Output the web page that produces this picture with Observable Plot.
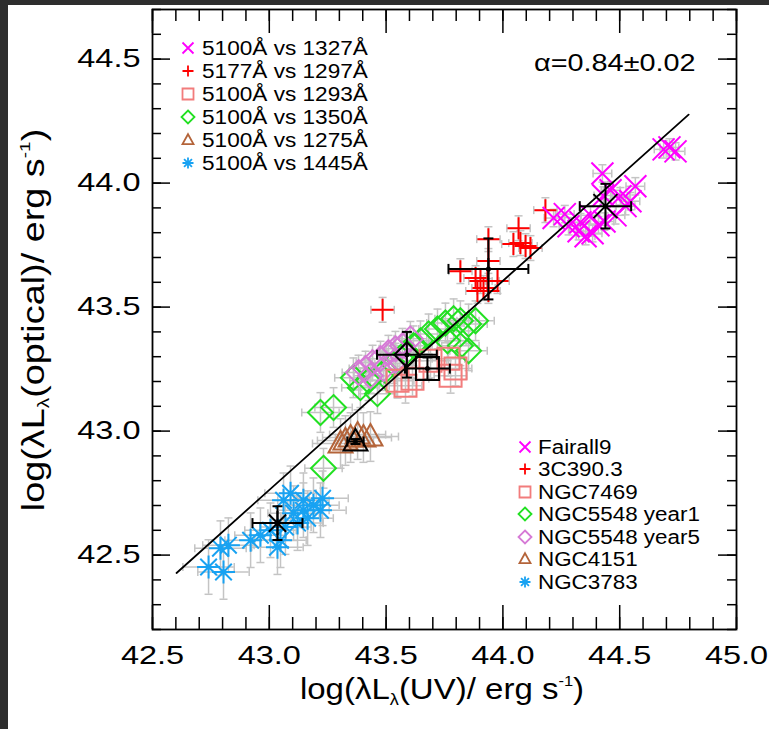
<!DOCTYPE html>
<html><head><meta charset="utf-8">
<script src="https://cdn.jsdelivr.net/npm/d3@7"></script>
<script src="https://cdn.jsdelivr.net/npm/@observablehq/plot@0.6"></script>
<style>
html,body{margin:0;padding:0;background:#2e2e2e;}
#wrap{position:relative;width:769px;height:729px;overflow:hidden;background:#2e2e2e;}
#panel{position:absolute;left:8px;top:5px;right:0;bottom:0;background:#fff;}
#chart{position:absolute;left:0;top:0;}
.t{position:absolute;font-family:"Liberation Sans",Arial,Helvetica,sans-serif;color:#000;white-space:nowrap;line-height:1;}
.t sub{font-size:0.55em;vertical-align:-0.35em;line-height:0;}
.t sup{font-size:0.5em;vertical-align:0.9em;line-height:0;}
</style></head><body>
<div id="wrap"><div id="panel"></div><div id="chart"></div><div id="overlay"></div></div>
<script>
// ---------------- data ----------------
const seriesNames = ["Fairall9","3C390.3","NGC7469","NGC5548 year1","NGC5548 year5","NGC4151","NGC3783"];
const pairLabels  = ["5100Å vs 1327Å","5177Å vs 1297Å","5100Å vs 1293Å","5100Å vs 1350Å","5100Å vs 1275Å","5100Å vs 1445Å"];
const fitLabel = "α=0.84±0.02";

const fairall9 = [[44.217,43.859],[44.265,43.875],[44.281,43.826],[44.324,43.806],[44.354,43.786],[44.384,43.798],
  [44.332,43.842],[44.409,43.830],[44.435,43.845],[44.426,44.039],[44.461,43.971],[44.503,43.947],[44.525,43.907],
  [44.546,43.927],[44.482,43.870],[44.375,43.870],[44.567,43.987],[44.430,43.950],[44.688,44.136],[44.739,44.128],[44.713,44.144]];
const c3c390 = [[44.182,43.891],[44.067,43.818],[44.075,43.758],[44.097,43.746],[44.045,43.754],[44.118,43.738],
  [43.938,43.774],[43.938,43.686],[43.818,43.645],[43.883,43.617],[43.904,43.605],[43.934,43.605],[43.917,43.577],
  [43.891,43.565],[43.938,43.565],[43.977,43.605],[43.485,43.489]];
const ngc7469 = [[43.549,43.203],[43.583,43.183],[43.613,43.211],[43.690,43.284],[43.767,43.292],[43.797,43.252],[43.776,43.223]];
const ngc5548y1 = [[43.232,42.850],[43.219,43.075],[43.275,43.095],[43.360,43.215],[43.390,43.175],[43.425,43.203],
  [43.463,43.151],[43.497,43.244],[43.532,43.272],[43.583,43.316],[43.617,43.344],[43.647,43.364],[43.682,43.392],
  [43.720,43.412],[43.754,43.436],[43.789,43.453],[43.818,43.445],[43.853,43.432],[43.883,43.445],[43.763,43.364],
  [43.818,43.344],[43.853,43.324]];
const ngc5548y5 = [[43.382,43.236],[43.412,43.252],[43.442,43.276],[43.476,43.292],[43.510,43.316],[43.540,43.332],
  [43.570,43.344],[43.604,43.372],[43.433,43.223],[43.489,43.252],[43.540,43.284]];
const ngc4151 = [[43.305,42.950],[43.326,42.962],[43.348,42.974],[43.378,42.986],[43.403,42.974],[43.433,42.978]];
const ngc3783 = [[42.740,42.452],[42.804,42.432],[42.791,42.528],[42.825,42.540],[42.920,42.560],[42.962,42.580],
  [43.005,42.600],[43.048,42.560],[43.035,42.532],[43.069,42.613],[43.104,42.669],[43.146,42.681],[43.189,42.701],
  [43.228,42.729],[43.164,42.649],[43.121,42.629],[43.061,42.721],[43.091,42.749],[43.146,42.721],[43.219,42.681]];
const seriesPoints = [fairall9, c3c390, ngc7469, ngc5548y1, ngc5548y5, ngc4151, ngc3783];
const seriesErrX = [0.04,0.05,0.07,0.08,0.07,0.12,0.11];
const seriesErrY = [0.035,0.05,0.07,0.08,0.07,0.10,0.11];

// black mean points
const meanX    = [44.439, 43.938, 43.677, 43.589, 43.369, 43.035];
const meanY    = [43.907, 43.654, 43.252, 43.308, 42.958, 42.629];
const meanErrX = [0.110, 0.171, 0.096, 0.128, 0.035, 0.107];
const meanErrY = [0.090, 0.123, 0.045, 0.092, 0.010, 0.068];

// fit line
const fitX = [42.603, 44.795];
const fitY = [42.428, 44.276];

// ticks
const xMajor = [42.5, 43.0, 43.5, 44.0, 44.5, 45.0];
const yMajor = [42.5, 43.0, 43.5, 44.0, 44.5];
const xMinor = d3.range(0, 26).map(i => +(42.5 + i * 0.1).toFixed(1));
const yMinor = d3.range(0, 26).map(i => +(42.2 + i * 0.1).toFixed(1));

// ---------------- styles ----------------
const colors = ["#ff00ff","#ff0000","#f27c7c","#22e022","#d67ad6","#b4643a","#18a2f2"];
const R = s => Math.sqrt(s / Math.PI);
const sym = {
  times:{draw(c,s){const r=R(s);c.moveTo(-r,-r);c.lineTo(r,r);c.moveTo(-r,r);c.lineTo(r,-r);}},
  plus:{draw(c,s){const r=R(s);c.moveTo(-r,0);c.lineTo(r,0);c.moveTo(0,-r);c.lineTo(0,r);}},
  square:{draw(c,s){const r=R(s);c.moveTo(-r,-r);c.lineTo(r,-r);c.lineTo(r,r);c.lineTo(-r,r);c.closePath();}},
  diamond:{draw(c,s){const r=R(s);c.moveTo(0,-r);c.lineTo(r,0);c.lineTo(0,r);c.lineTo(-r,0);c.closePath();}},
  triangle:{draw(c,s){const r=R(s);c.moveTo(0,-1.05*r);c.lineTo(r,0.75*r);c.lineTo(-r,0.75*r);c.closePath();}},
  asterisk:{draw(c,s){const r=R(s),d=r*0.72;c.moveTo(-r,0);c.lineTo(r,0);c.moveTo(0,-r);c.lineTo(0,r);
    c.moveTo(-d,-d);c.lineTo(d,d);c.moveTo(-d,d);c.lineTo(d,-d);}},
  vcap:{draw(c,s){const r=R(s);c.moveTo(0,-r);c.lineTo(0,r);}},
  hcap:{draw(c,s){const r=R(s);c.moveTo(-r,0);c.lineTo(r,0);}}
};
const shapes = ["times","plus","square","diamond","diamond","triangle","asterisk"];
const sizes  = [11, 11, 11, 12.5, 12.5, 12, 11.5];
const meanShapes = ["times","plus","square","diamond","triangle","asterisk"];
const meanSizes  = [12, 11, 11.5, 12.5, 12, 12];
const drawOrder = [3,4,2,5,6,1,0];

// ---------------- marks ----------------
const grey = "#c4c4c4";
const marks = [];
for (const i of drawOrder) {
  const pts = seriesPoints[i], ex = seriesErrX[i], ey = seriesErrY[i];
  marks.push(Plot.ruleY(pts, {y: d => d[1], x1: d => d[0] - ex, x2: d => d[0] + ex, stroke: grey, strokeWidth: 1.5}));
  marks.push(Plot.ruleX(pts, {x: d => d[0], y1: d => d[1] - ey, y2: d => d[1] + ey, stroke: grey, strokeWidth: 1.5}));
  marks.push(Plot.dot(pts, {x: d => d[0] - ex, y: d => d[1], symbol: sym.vcap, r: 4, stroke: grey, strokeWidth: 1.5, fill: "none"}));
  marks.push(Plot.dot(pts, {x: d => d[0] + ex, y: d => d[1], symbol: sym.vcap, r: 4, stroke: grey, strokeWidth: 1.5, fill: "none"}));
  marks.push(Plot.dot(pts, {x: d => d[0], y: d => d[1] - ey, symbol: sym.hcap, r: 4, stroke: grey, strokeWidth: 1.5, fill: "none"}));
  marks.push(Plot.dot(pts, {x: d => d[0], y: d => d[1] + ey, symbol: sym.hcap, r: 4, stroke: grey, strokeWidth: 1.5, fill: "none"}));
}
for (const i of drawOrder) {
  marks.push(Plot.dot(seriesPoints[i], {x: d => d[0], y: d => d[1], symbol: sym[shapes[i]], r: sizes[i],
    stroke: colors[i], strokeWidth: 2, fill: "none"}));
}
// fit line
marks.push(Plot.line(fitX.map((x, k) => [x, fitY[k]]), {x: d => d[0], y: d => d[1], stroke: "black", strokeWidth: 1.8}));
// means
const means = meanX.map((x, k) => ({x, y: meanY[k], ex: meanErrX[k], ey: meanErrY[k], k}));
marks.push(Plot.ruleY(means, {y: "y", x1: d => d.x - d.ex, x2: d => d.x + d.ex, stroke: "black", strokeWidth: 2}));
marks.push(Plot.ruleX(means, {x: "x", y1: d => d.y - d.ey, y2: d => d.y + d.ey, stroke: "black", strokeWidth: 2}));
marks.push(Plot.dot(means, {x: d => d.x - d.ex, y: "y", symbol: sym.vcap, r: 5, stroke: "black", strokeWidth: 2, fill: "none"}));
marks.push(Plot.dot(means, {x: d => d.x + d.ex, y: "y", symbol: sym.vcap, r: 5, stroke: "black", strokeWidth: 2, fill: "none"}));
marks.push(Plot.dot(means, {x: "x", y: d => d.y - d.ey, symbol: sym.hcap, r: 5, stroke: "black", strokeWidth: 2, fill: "none"}));
marks.push(Plot.dot(means, {x: "x", y: d => d.y + d.ey, symbol: sym.hcap, r: 5, stroke: "black", strokeWidth: 2, fill: "none"}));
means.forEach(m => {
  marks.push(Plot.dot([m], {x: "x", y: "y", symbol: sym[meanShapes[m.k]], r: meanSizes[m.k], stroke: "black", strokeWidth: 2, fill: "none"}));
});
marks.push(Plot.dot(means, {x: "x", y: "y", r: 2.5, fill: "black"}));

// frame + ticks (inward, all four sides)
const FW = 584, FH = 620;
marks.push(Plot.tickX(xMinor, {x: d => d, insetTop: FH - 12, stroke: "black", strokeWidth: 1.5}));
marks.push(Plot.tickX(xMinor, {x: d => d, insetBottom: FH - 12, stroke: "black", strokeWidth: 1.5}));
marks.push(Plot.tickX(xMajor, {x: d => d, insetTop: FH - 24, stroke: "black", strokeWidth: 1.5}));
marks.push(Plot.tickX(xMajor, {x: d => d, insetBottom: FH - 24, stroke: "black", strokeWidth: 1.5}));
marks.push(Plot.tickY(yMinor, {y: d => d, insetRight: FW - 9, stroke: "black", strokeWidth: 1.5}));
marks.push(Plot.tickY(yMinor, {y: d => d, insetLeft: FW - 9, stroke: "black", strokeWidth: 1.5}));
marks.push(Plot.tickY(yMajor, {y: d => d, insetRight: FW - 18, stroke: "black", strokeWidth: 1.5}));
marks.push(Plot.tickY(yMajor, {y: d => d, insetLeft: FW - 18, stroke: "black", strokeWidth: 1.5}));
marks.push(Plot.frame({stroke: "black", strokeWidth: 1.8}));
marks.push(Plot.axisX({ticks: xMajor, tickSize: 0, tickPadding: 16, tickFormat: d3.format(".1f"), fontSize: 26, label: null}));
marks.push(Plot.axisY({ticks: yMajor, tickSize: 0, tickPadding: 12, tickFormat: d3.format(".1f"), fontSize: 26, label: null}));

const chart = Plot.plot({
  width: 769, height: 729,
  marginLeft: 152, marginRight: 33, marginTop: 9, marginBottom: 100,
  style: {background: "transparent", fontFamily: "Liberation Sans, Arial, Helvetica, sans-serif", color: "black", overflow: "visible"},
  x: {domain: [42.5, 45.0]},
  y: {domain: [42.2, 44.7]},
  marks
});
document.getElementById("chart").appendChild(chart);
chart.querySelectorAll('g[aria-label="x-axis tick label"] text, g[aria-label="y-axis tick label"] text').forEach(el => {
  el.setAttribute("transform", (el.getAttribute("transform") || "") + " scale(1.25,1)");
  el.setAttribute("fill", "black");
});

// ---------------- overlay texts / legends ----------------
const ov = document.getElementById("overlay");
function addText(html, css) {
  const d = document.createElement("div");
  d.className = "t";
  d.innerHTML = html;
  Object.assign(d.style, css);
  ov.appendChild(d);
  return d;
}
function icon(shape, color, r, cx, cy) {
  const p = d3.path();
  sym[shape].draw(p, Math.PI * r * r);
  const s = document.createElementNS("http://www.w3.org/2000/svg", "svg");
  s.setAttribute("width", 1); s.setAttribute("height", 1);
  s.style.position = "absolute"; s.style.left = cx + "px"; s.style.top = cy + "px"; s.style.overflow = "visible";
  s.innerHTML = `<path d="${p}" fill="none" stroke="${color}" stroke-width="1.8"/>`;
  ov.appendChild(s);
}
// legend 1 (wavelength pairs)
const leg1Series = [0,1,2,3,5,6];
const leg1Rows = [48, 71, 94, 117, 140, 163];
pairLabels.forEach((lab, k) => {
  const i = leg1Series[k];
  icon(shapes[i], colors[i], i === 3 ? 6.5 : 5.5, 188, leg1Rows[k]);
  addText(lab, {left: "202px", top: (leg1Rows[k] - 9.8) + "px", fontSize: "20px", transform: "scaleX(1.13)", transformOrigin: "left center"});
});
// legend 2 (objects)
const leg2Rows = [447, 469, 492, 514, 537, 559, 582];
seriesNames.forEach((lab, i) => {
  icon(shapes[i], colors[i], (i === 3 || i === 4) ? 6.5 : 5.5, 525, leg2Rows[i]);
  addText(lab, {left: "538px", top: (leg2Rows[i] - 9.8) + "px", fontSize: "20px", transform: "scaleX(1.12)", transformOrigin: "left center"});
});
// fit annotation
addText(fitLabel, {right: "74px", top: "51px", fontSize: "24px", transform: "scaleX(1.2)", transformOrigin: "right center"});
// axis titles
addText('log(λL<sub>λ</sub>(UV)/ erg s<sup>-1</sup>)', {left: "442px", top: "674px", fontSize: "30px", transform: "translateX(-50%) scaleX(1.1)", transformOrigin: "center center"});
addText('log(λL<sub>λ</sub>(optical)/ erg s<sup>-1</sup>)', {left: "33px", top: "320px", fontSize: "31px", transform: "translate(-50%,-50%) rotate(-90deg) scaleX(1.22)", transformOrigin: "center center"});
</script></body></html>
